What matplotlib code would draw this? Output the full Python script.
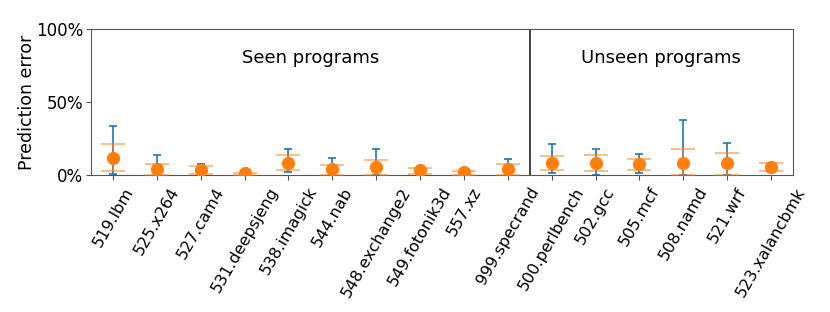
import matplotlib
matplotlib.use("Agg")
import matplotlib.pyplot as plt
import numpy as np

programs = ["519.lbm", "525.x264", "527.cam4", "531.deepsjeng", "538.imagick",
            "544.nab", "548.exchange2", "549.fotonik3d", "557.xz", "999.specrand",
            "500.perlbench", "502.gcc", "505.mcf", "508.namd", "521.wrf", "523.xalancbmk"]
# centre values (orange markers), in %
mean = [12.0, 4.0, 3.6, 1.2, 8.4, 3.9, 5.3, 3.2, 1.8, 4.1,
        8.2, 8.2, 7.3, 8.0, 8.0, 5.3]
# orange band (e.g. +/- std)
band_low = [3.0, 0.0, 0.8, 0.2, 3.4, 0.0, 0.0, 0.9, 0.0, 0.0,
            3.2, 2.5, 3.2, 0.0, 0.0, 2.5]
band_high = [21.0, 7.3, 6.4, 1.5, 13.5, 6.8, 10.5, 5.0, 3.0, 7.3,
             13.2, 13.5, 11.0, 17.8, 15.3, 8.0]
# blue range (min / max)
range_low = [1.0, 0.0, 0.3, 0.0, 2.0, 0.0, 0.0, 0.5, 0.0, 0.0,
             1.1, 0.0, 1.4, 0.0, 0.0, 2.0]
range_high = [33.8, 14.0, 7.7, 1.5, 17.6, 12.0, 18.0, 5.0, 2.5, 11.2,
              21.2, 17.8, 14.6, 37.4, 21.7, 7.5]
n_seen = 10

fig = plt.figure(figsize=(8.3, 3.12), dpi=100)
ax = fig.add_axes([0.1096, 0.439, 0.8458, 0.468])

x = np.arange(len(programs))
mean_a = np.array(mean)
ax.errorbar(x, mean_a, yerr=[mean_a - np.array(range_low), np.array(range_high) - mean_a],
            fmt="none", ecolor="C0", capsize=3, elinewidth=1.2, capthick=1.2, zorder=2)
ax.errorbar(x, mean_a, yerr=[mean_a - np.array(band_low), np.array(band_high) - mean_a],
            fmt="none", ecolor="C1", alpha=0.6, capsize=8.5, elinewidth=1.2, capthick=1.2, zorder=3)
ax.plot(x, mean_a, "o", color="C1", markersize=8.5, zorder=4, linestyle="none")

ax.axvline(n_seen - 0.5, color="#222222", linewidth=1.2)
ax.set_xlim(-0.5, len(programs) - 0.5)
ax.set_ylim(0, 100)
ax.set_yticks([0, 50, 100])
ax.set_yticklabels(["0%", "50%", "100%"], fontsize=12)
ax.set_xticks(x)
ax.set_xticklabels(programs, rotation=60, ha="center", fontsize=11.5)
ax.set_ylabel("Prediction error", fontsize=12.5)
ax.yaxis.set_label_coords(-0.078, 0.5)
for s in ax.spines.values():
    s.set_color("#555555")
ax.tick_params(colors="#555555", labelcolor="black")
ax.tick_params(axis="y", pad=2)

ax.text((n_seen - 1) / 2, 80, "Seen programs", ha="center", va="center", fontsize=13)
ax.text((n_seen + len(programs) - 1) / 2, 80, "Unseen programs", ha="center", va="center", fontsize=13)

fig.savefig("out.png", dpi=100)
